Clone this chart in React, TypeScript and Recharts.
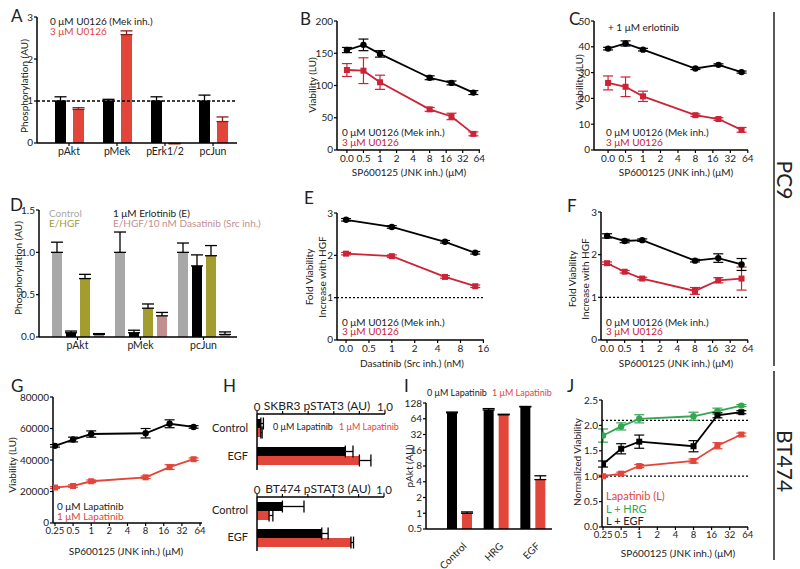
import React from "react";
import {
  BarChart,
  Bar,
  LineChart,
  Line,
  XAxis,
  YAxis,
  ErrorBar,
  ReferenceLine,
} from "recharts";

const FONT = 'Lato, "Liberation Sans", Arial, sans-serif';
const RED = "#e2463b";
const CRIMSON = "#cc2336";
const GREEN = "#34a651";
const GREY = "#a8a8a8";
const OLIVE = "#a39d2f";
const PINK = "#c28f8f";

// ---- data ----
const doseTicks = [0.25, 0.5, 1, 2, 4, 8, 16, 32, 64];
// 0 µM is drawn in the 0.25 slot in B, C, F
const jnkDoses = [0.25, 0.5, 1, 8, 20, 50];

const aCats = ["pAkt", "pMek", "pErk1/2", "pcJun"];
const aCtrl = [1, 1, 1, 1];
const aCtrlErr = [0.1, 0.04, 0.1, 0.14];
const aU0126 = [0.8, 2.58, -0.02, 0.51];
const aU0126Err = [0.04, 0.09, 0.01, 0.11];

const bBlack = [155, 163, 149, 112, 104, 89];
const bBlackErr = [4, 9, 5, 3, 3, 3];
const bRed = [124, 123, 105, 63, 52, 25];
const bRedErr = [10, 20, 11, 3, 5, 3];

const cBlack = [39.3, 41.3, 38.9, 31.6, 33.0, 30.2];
const cBlackErr = [0.5, 1, 0.5, 0.4, 0.4, 0.4];
const cRed = [26, 24.5, 20.8, 13.5, 12, 7.8];
const cRedErr = [2.7, 3.8, 2, 0.5, 0.5, 0.9];

const dCats = ["pAkt", "pMek", "pcJun"];
const dControl = [1, 1, 1];
const dControlErr = [0.12, 0.24, 0.11];
const dErlot = [0.05, 0.05, 0.84];
const dErlotErr = [0.02, 0.03, 0.13];
const dHgf = [0.69, 0.34, 0.96];
const dHgfErr = [0.05, 0.05, 0.12];
const dDasa = [0.03, 0.25, 0.03];
const dDasaErr = [0.01, 0.04, 0.03];

const eTicks = [0.25, 0.5, 1, 2, 4, 8, 16];
const eDoses = [0.25, 1, 5, 12.5];
const eBlack = [2.84, 2.67, 2.32, 2.06];
const eBlackErr = [0.03, 0.03, 0.03, 0.03];
const eRed = [2.04, 1.98, 1.49, 1.27];
const eRedErr = [0.03, 0.03, 0.03, 0.03];

const fBlack = [2.44, 2.32, 2.34, 1.86, 1.92, 1.77];
const fBlackErr = [0.05, 0.04, 0.03, 0.03, 0.1, 0.14];
const fRed = [1.8, 1.6, 1.44, 1.15, 1.4, 1.44];
const fRedErr = [0.03, 0.03, 0.03, 0.08, 0.06, 0.27];

const gBlack = [49000, 53000, 56500, 57000, 63000, 61000];
const gBlackErr = [800, 1500, 2000, 3000, 2500, 800];
const gRed = [22500, 23500, 26500, 29000, 35500, 40500];
const gRedErr = [600, 800, 800, 800, 1500, 800];

const hCats = ["Control", "EGF"];
const hSkbr0 = [0.03, 0.69];
const hSkbr0Err = [0.02, 0.06];
const hSkbr1 = [0.03, 0.8];
const hSkbr1Err = [0.01, 0.09];
const hBt0 = [0.2, 0.51];
const hBt0Err = [0.17, 0.05];
const hBt1 = [0.095, 0.74];
const hBt1Err = [0.03, 0.02];
const hTicks = [0, 0.2, 0.4, 0.6, 0.8, 1];

const iCats = ["Control", "HRG", "EGF"];
const iNoLap = [83, 94, 108];
const iNoLapErr = [3, 6, 2];
const iLap = [1.0, 76, 4.4];
const iLapErr = [0.06, 2, 0.8];
const iTicks = [0.5, 1, 2, 4, 8, 16, 32, 64, 128];

const jLap = [1.0, 1.05, 1.2, 1.3, 1.6, 1.82];
const jLapErr = [0.02, 0.03, 0.03, 0.04, 0.06, 0.03];
const jHrg = [1.8, 1.98, 2.13, 2.18, 2.28, 2.39];
const jHrgErr = [0.13, 0.07, 0.08, 0.08, 0.06, 0.02];
const jEgf = [1.24, 1.54, 1.68, 1.59, 2.2, 2.26];
const jEgfErr = [0.06, 0.1, 0.13, 0.11, 0.05, 0.03];

// ---- layout helpers ----
type Box = { x0: number; y0: number; x1: number; y1: number };
const YW = 40;
const XH = 30;
const PAD = 8;

function frame(b: Box, top = false, xh = XH) {
  return {
    wrap: {
      position: "absolute" as const,
      left: b.x0 - YW,
      top: top ? b.y0 - xh : b.y0 - PAD,
    },
    width: b.x1 - b.x0 + YW + PAD,
    height: b.y1 - b.y0 + xh + PAD,
    margin: top
      ? { top: 0, right: PAD, bottom: PAD, left: 0 }
      : { top: PAD, right: PAD, bottom: 0, left: 0 },
  };
}

// keep the edge ticks a hair inside the domain so they are always drawn
const pad0 = (lo: number, hi: number): [number, number] => [lo - (hi - lo) * 1e-4, hi + (hi - lo) * 1e-4];

const axisLine = { stroke: "#000", strokeWidth: 1.5 };
const tickLine = { stroke: "#000", strokeWidth: 1.2 };

// tick label drawn as plain svg text
function AxisTick(p: any) {
  const fmt = p.tickFormatter;
  const label = fmt ? fmt(p.payload.value, p.index) : String(p.payload.value);
  const dy = p.verticalAnchor === "start" ? "0.75em" : p.verticalAnchor === "end" ? "0" : "0.35em";
  return (
    <text x={p.x} y={p.y} dy={dy} textAnchor={p.textAnchor} fontSize={p.fs || 10} fill="#222">
      {label}
    </text>
  );
}

const zeroFmt = (v: number) => (v === 0.25 ? "0.0" : String(v));

const dotFor = (color: string, shape: string) => (p: any) =>
  shape === "square" ? (
    <rect key={`s${p.index}`} x={p.cx - 3} y={p.cy - 3} width={6} height={6} fill={color} />
  ) : (
    <circle key={`c${p.index}`} cx={p.cx} cy={p.cy} r={3.2} fill={color} />
  );

type Series = { values: number[]; errs: number[]; color: string; shape: string };

function DoseChart(props: {
  b: Box;
  doses: number[];
  series: Series[];
  xDomain: [number, number];
  xTicks: number[];
  xFmt?: (v: number) => string;
  xFs?: number;
  yDomain: [number, number];
  yTicks: number[];
  yFmt?: (v: number) => string;
  refs?: number[];
}) {
  const f = frame(props.b);
  const rows = props.doses.map((d, i) => {
    const row: any = { dose: d };
    props.series.forEach((s, j) => {
      row["v" + j] = s.values[i];
      row["e" + j] = s.errs[i];
    });
    return row;
  });
  return (
    <div style={f.wrap}>
      <LineChart width={f.width} height={f.height} margin={f.margin} data={rows}>
        <XAxis
          dataKey="dose"
          type="number"
          scale="log"
          domain={props.xDomain}
          ticks={props.xTicks}
          tickFormatter={props.xFmt}
          interval={0}
          allowDataOverflow
          height={XH}
          axisLine={axisLine}
          tickLine={tickLine}
          tickSize={3}
          tickMargin={1}
          tick={<AxisTick fs={props.xFs || 10} />}
        />
        <YAxis
          type="number"
          domain={pad0(props.yDomain[0], props.yDomain[1])}
          ticks={props.yTicks}
          tickFormatter={props.yFmt}
          interval={0}
          allowDataOverflow
          width={YW}
          axisLine={axisLine}
          tickLine={tickLine}
          tickSize={3}
          tickMargin={1}
          tick={<AxisTick />}
        />
        {(props.refs || []).map((r) => (
          <ReferenceLine key={r} y={r} stroke="#000" strokeWidth={1.3} strokeDasharray="2 2" />
        ))}
        {props.series.map((s, j) => (
          <Line
            key={j}
            dataKey={"v" + j}
            type="linear"
            stroke={s.color}
            strokeWidth={1.8}
            dot={dotFor(s.color, s.shape)}
            isAnimationActive={false}
          >
            <ErrorBar dataKey={"e" + j} direction="y" width={5} stroke={s.color} strokeWidth={1.2} />
          </Line>
        ))}
      </LineChart>
    </div>
  );
}

function SlantTick(p: any) {
  return (
    <g transform={`translate(${p.x + 5},${p.y + 7}) rotate(-45)`}>
      <text textAnchor="end" dominantBaseline="central" fontSize={10} fill="#222">
        {p.payload.value}
      </text>
    </g>
  );
}

function T(p: {
  x: number;
  y: number;
  c?: string;
  s?: number;
  a?: "start" | "middle" | "end";
  r?: number;
  children: React.ReactNode;
}) {
  return (
    <text
      x={p.x}
      y={p.y}
      fill={p.c || "#222"}
      fontSize={p.s || 10}
      textAnchor={p.a || "start"}
      dominantBaseline="central"
      transform={p.r ? `rotate(${p.r} ${p.x} ${p.y})` : undefined}
    >
      {p.children}
    </text>
  );
}

function PanelA() {
  const f = frame({ x0: 37, y0: 17, x1: 237, y1: 143 });
  const rows = aCats.map((c, i) => ({
    cat: c,
    k: aCtrl[i],
    ke: [0, aCtrlErr[i]],
    r: aU0126[i],
    re: [0, aU0126Err[i]],
  }));
  return (
    <div style={f.wrap}>
      <BarChart width={f.width} height={f.height} margin={f.margin} data={rows} barGap={7}>
        <XAxis dataKey="cat" interval={0} padding={{ left: 8, right: 0 }} height={XH} axisLine={axisLine} tickLine={tickLine} tickSize={3} tickMargin={1} tick={<AxisTick fs={10.5} />} />
        <YAxis domain={pad0(0, 3)} ticks={[0, 1, 2, 3]} interval={0} width={YW} axisLine={axisLine} tickLine={tickLine} tickSize={3} tickMargin={1} tick={<AxisTick />} allowDataOverflow />
        <Bar dataKey="k" fill="#000" barSize={11} isAnimationActive={false}>
          <ErrorBar dataKey="ke" direction="y" width={6} stroke="#000" strokeWidth={1.3} />
        </Bar>
        <Bar dataKey="r" fill={RED} barSize={11} isAnimationActive={false}>
          <ErrorBar dataKey="re" direction="y" width={6} stroke="#8a1f18" strokeWidth={1.3} />
        </Bar>
        <ReferenceLine y={1} stroke="#000" strokeWidth={1.3} strokeDasharray="3 2" />
      </BarChart>
    </div>
  );
}

function PanelD() {
  const f = frame({ x0: 39, y0: 210, x1: 237, y1: 337 });
  const rows = dCats.map((c, i) => ({
    cat: c,
    a: dControl[i],
    ae: [0, dControlErr[i]],
    b: dErlot[i],
    be: [0, dErlotErr[i]],
    c: dHgf[i],
    ce: [0, dHgfErr[i]],
    d: dDasa[i],
    de: [0, dDasaErr[i]],
  }));
  const bars: [string, string][] = [
    ["a", GREY],
    ["b", "#000"],
    ["c", OLIVE],
    ["d", PINK],
  ];
  return (
    <div style={f.wrap}>
      <BarChart width={f.width} height={f.height} margin={f.margin} data={rows} barGap={4}>
        <XAxis dataKey="cat" interval={0} padding={{ left: 7, right: 2 }} height={XH} axisLine={axisLine} tickLine={tickLine} tickSize={3} tickMargin={1} tick={<AxisTick fs={10.5} />} />
        <YAxis domain={pad0(0, 1.5)} allowDataOverflow ticks={[0, 0.5, 1, 1.5]} interval={0} tickFormatter={(v: number) => v.toFixed(1)} width={YW} axisLine={axisLine} tickLine={tickLine} tickSize={3} tickMargin={1} tick={<AxisTick />} />
        {bars.map(([k, col]) => (
          <Bar key={k} dataKey={k} fill={col} barSize={10} isAnimationActive={false}>
            <ErrorBar dataKey={k + "e"} direction="y" width={6} stroke="#000" strokeWidth={1.3} />
          </Bar>
        ))}
      </BarChart>
    </div>
  );
}

function PanelH(props: { b: Box; v0: number[]; e0: number[]; v1: number[]; e1: number[] }) {
  const f = frame(props.b, true);
  const rows = hCats.map((c, i) => ({
    cat: c,
    k: props.v0[i],
    ke: [0, props.e0[i]],
    r: props.v1[i],
    re: [0, props.e1[i]],
  }));
  return (
    <div style={f.wrap}>
      <BarChart width={f.width} height={f.height} margin={f.margin} data={rows} layout="vertical" barGap={0}>
        <XAxis
          type="number"
          orientation="top"
          domain={pad0(0, 1)}
          allowDataOverflow
          ticks={hTicks}
          interval={0}
          tickFormatter={(v: number) => (v === 0 ? "0" : v === 1 ? "1.0" : "")}
          height={XH}
          axisLine={axisLine}
          tickLine={tickLine}
          tickSize={3}
          tickMargin={0}
          tick={<AxisTick fs={11.5} />}
        />
        <YAxis type="category" dataKey="cat" interval={0} width={YW} axisLine={axisLine} tickLine={false} tickMargin={3} tick={<AxisTick fs={11} />} />
        <Bar dataKey="k" fill="#000" barSize={9} isAnimationActive={false}>
          <ErrorBar dataKey="ke" direction="x" width={6} stroke="#000" strokeWidth={1.3} />
        </Bar>
        <Bar dataKey="r" fill={RED} barSize={9} isAnimationActive={false}>
          <ErrorBar dataKey="re" direction="x" width={6} stroke="#000" strokeWidth={1.3} />
        </Bar>
      </BarChart>
    </div>
  );
}

function PanelI() {
  const f = frame({ x0: 426, y0: 403, x1: 552, y1: 529 }, false, 40);
  const rows = iCats.map((c, i) => ({
    cat: c,
    k: iNoLap[i],
    ke: [0, iNoLapErr[i]],
    r: iLap[i],
    re: [0, iLapErr[i]],
  }));
  return (
    <div style={f.wrap}>
      <BarChart width={f.width} height={f.height} margin={f.margin} data={rows} barGap={5}>
        <XAxis dataKey="cat" interval={0} padding={{ left: 15, right: 1 }} height={40} axisLine={axisLine} tickLine={false} tick={<SlantTick />} />
        <YAxis
          type="number"
          scale="log"
          domain={[0.4999, 128.01]}
          ticks={iTicks}
          interval={0}
          allowDataOverflow
          width={YW}
          axisLine={axisLine}
          tickLine={tickLine}
          tickSize={3}
          tickMargin={1}
          tick={<AxisTick />}
        />
        <Bar dataKey="k" fill="#000" barSize={10} isAnimationActive={false}>
          <ErrorBar dataKey="ke" direction="y" width={6} stroke="#000" strokeWidth={1.3} />
        </Bar>
        <Bar dataKey="r" fill={RED} barSize={10} isAnimationActive={false}>
          <ErrorBar dataKey="re" direction="y" width={6} stroke="#000" strokeWidth={1.3} />
        </Bar>
      </BarChart>
    </div>
  );
}

export default function App() {
  return (
    <div
      style={{
        position: "fixed",
        left: 0,
        top: 0,
        width: 800,
        height: 569,
        background: "#fff",
        fontFamily: FONT,
        overflow: "hidden",
      }}
    >
      <style>{".recharts-surface{overflow:visible}"}</style>
      <PanelA />
      <DoseChart
        b={{ x0: 337, y0: 21, x1: 480, y1: 150 }}
        doses={jnkDoses}
        series={[
          { values: bRed, errs: bRedErr, color: CRIMSON, shape: "square" },
          { values: bBlack, errs: bBlackErr, color: "#000", shape: "circle" },
        ]}
        xDomain={[0.165, 66]}
        xTicks={doseTicks}
        xFmt={zeroFmt}
        yDomain={[0, 200]}
        yTicks={[0, 50, 100, 150, 200]}
      />
      <DoseChart
        b={{ x0: 594, y0: 21, x1: 748, y1: 150 }}
        doses={jnkDoses}
        series={[
          { values: cRed, errs: cRedErr, color: CRIMSON, shape: "square" },
          { values: cBlack, errs: cBlackErr, color: "#000", shape: "circle" },
        ]}
        xDomain={[0.143, 64.5]}
        xTicks={doseTicks}
        xFmt={zeroFmt}
        yDomain={[0, 50]}
        yTicks={[0, 10, 20, 30, 40, 50]}
      />
      <PanelD />
      <DoseChart
        b={{ x0: 337, y0: 213, x1: 484, y1: 340 }}
        doses={eDoses}
        series={[
          { values: eRed, errs: eRedErr, color: CRIMSON, shape: "square" },
          { values: eBlack, errs: eBlackErr, color: "#000", shape: "circle" },
        ]}
        xDomain={[0.19, 16.3]}
        xTicks={eTicks}
        xFmt={zeroFmt}
        yDomain={[0, 3]}
        yTicks={[0, 1, 2, 3]}
        refs={[1]}
      />
      <DoseChart
        b={{ x0: 601, y0: 212, x1: 748, y1: 340 }}
        doses={jnkDoses}
        series={[
          { values: fRed, errs: fRedErr, color: CRIMSON, shape: "square" },
          { values: fBlack, errs: fBlackErr, color: "#000", shape: "circle" },
        ]}
        xDomain={[0.197, 64.5]}
        xTicks={doseTicks}
        xFmt={zeroFmt}
        yDomain={[0, 3]}
        yTicks={[0, 1, 2, 3]}
        refs={[1]}
      />
      <DoseChart
        b={{ x0: 53, y0: 397, x1: 202, y1: 523 }}
        doses={jnkDoses}
        series={[
          { values: gRed, errs: gRedErr, color: RED, shape: "square" },
          { values: gBlack, errs: gBlackErr, color: "#000", shape: "circle" },
        ]}
        xDomain={[0.232, 69]}
        xTicks={doseTicks}
        xFs={9.5}
        yDomain={[0, 80000]}
        yTicks={[0, 20000, 40000, 60000, 80000]}
      />
      <PanelH b={{ x0: 257, y0: 414, x1: 385, y1: 470 }} v0={hSkbr0} e0={hSkbr0Err} v1={hSkbr1} e1={hSkbr1Err} />
      <PanelH b={{ x0: 257, y0: 497, x1: 384, y1: 551 }} v0={hBt0} e0={hBt0Err} v1={hBt1} e1={hBt1Err} />
      <PanelI />
      <DoseChart
        b={{ x0: 602, y0: 400, x1: 748, y1: 527 }}
        doses={jnkDoses}
        series={[
          { values: jLap, errs: jLapErr, color: RED, shape: "square" },
          { values: jHrg, errs: jHrgErr, color: GREEN, shape: "circle" },
          { values: jEgf, errs: jEgfErr, color: "#000", shape: "square" },
        ]}
        xDomain={[0.24, 64.5]}
        xTicks={doseTicks}
        xFs={9.5}
        yDomain={[0, 2.5]}
        yTicks={[0, 0.5, 1, 1.5, 2, 2.5]}
        yFmt={(v: number) => v.toFixed(1)}
        refs={[1, 2.1]}
      />

      <svg width={800} height={569} style={{ position: "absolute", left: 0, top: 0, pointerEvents: "none" }}>
        {/* panel letters */}
        <T x={11} y={15} s={17}>A</T>
        <T x={300} y={18} s={17}>B</T>
        <T x={569} y={18} s={17}>C</T>
        <T x={10} y={204} s={17}>D</T>
        <T x={304} y={197} s={17}>E</T>
        <T x={567} y={205} s={17}>F</T>
        <T x={11} y={385} s={17}>G</T>
        <T x={223} y={385} s={17}>H</T>
        <T x={404} y={385} s={17}>I</T>
        <T x={567} y={385} s={17}>J</T>

        {/* A */}
        <T x={24} y={86} r={-90} a="middle">Phosphorylation (AU)</T>
        <T x={50} y={21}>0 μM U0126 (Mek inh.)</T>
        <T x={50} y={31} c={RED}>3 μM U0126</T>

        {/* B */}
        <T x={312} y={85} r={-90} a="middle">Viability (LU)</T>
        <T x={342} y={132}>0 μM U0126 (Mek inh.)</T>
        <T x={342} y={142} c={CRIMSON}>3 μM U0126</T>
        <T x={409} y={172} a="middle">SP600125 (JNK inh.) (μM)</T>

        {/* C */}
        <T x={579} y={82} r={-90} a="middle">Viability (LU)</T>
        <T x={608} y={27}>+ 1 μM erlotinib</T>
        <T x={606} y={132}>0 μM U0126 (Mek inh.)</T>
        <T x={606} y={142} c={CRIMSON}>3 μM U0126</T>
        <T x={676} y={172} a="middle">SP600125 (JNK inh.) (μM)</T>

        {/* D */}
        <T x={18} y={268} r={-90} a="middle">Phosphorylation (AU)</T>
        <T x={49} y={213} c={GREY}>Control</T>
        <T x={49} y={223} c={OLIVE}>E/HGF</T>
        <T x={113} y={213}>1 μM Erlotinib (E)</T>
        <T x={113} y={223} c={PINK}>E/HGF/10 nM Dasatinib (Src inh.)</T>

        {/* E */}
        <T x={309} y={277} r={-90} a="middle">Fold Viability</T>
        <T x={322} y={277} r={-90} a="middle">Increase with HGF</T>
        <T x={342} y={322}>0 μM U0126 (Mek inh.)</T>
        <T x={342} y={331} c={CRIMSON}>3 μM U0126</T>
        <T x={412} y={363} a="middle">Dasatinib (Src inh.) (nM)</T>

        {/* F */}
        <T x={572} y={279} r={-90} a="middle">Fold Viability</T>
        <T x={585} y={279} r={-90} a="middle">Increase with HGF</T>
        <T x={606} y={322}>0 μM U0126 (Mek inh.)</T>
        <T x={606} y={331} c={CRIMSON}>3 μM U0126</T>
        <T x={676} y={363} a="middle">SP600125 (JNK inh.) (μM)</T>

        {/* G */}
        <T x={12} y={465} r={-90} a="middle">Viability (LU)</T>
        <T x={57} y={506}>0 μM Lapatinib</T>
        <T x={57} y={516} c={RED}>1 μM Lapatinib</T>
        <T x={126} y={551} a="middle">SP600125 (JNK inh.) (μM)</T>

        {/* H */}
        <T x={317} y={405} s={12} a="middle">SKBR3 pSTAT3 (AU)</T>
        <T x={273} y={426} s={9}>0 μM Lapatinib</T>
        <T x={339} y={426} s={9} c={RED}>1 μM Lapatinib</T>
        <T x={318} y={488} s={12} a="middle">BT474 pSTAT3 (AU)</T>

        {/* I */}
        <T x={409} y={466} r={-90} a="middle">pAkt (AU)</T>
        <T x={427} y={392} s={9}>0 μM Lapatinib</T>
        <T x={492} y={392} s={9} c={RED}>1 μM Lapatinib</T>

        {/* J */}
        <T x={577} y={462} r={-90} a="middle">Normalized Viability</T>
        <T x={606} y={495} s={11} c={RED}>Lapatinib (L)</T>
        <T x={606} y={508} s={11} c={GREEN}>L + HRG</T>
        <T x={606} y={520} s={11}>L + EGF</T>
        <T x={678} y={553} a="middle">SP600125 (JNK inh.) (μM)</T>

        {/* cell line brackets */}
        <line x1={774} y1={12} x2={774} y2={366} stroke="#222" strokeWidth={1.5} />
        <T x={785} y={180} s={21} r={90} a="middle">PC9</T>
        <line x1={774} y1={371} x2={774} y2={560} stroke="#222" strokeWidth={1.5} />
        <T x={785} y={461} s={21} r={90} a="middle">BT474</T>
      </svg>
    </div>
  );
}
